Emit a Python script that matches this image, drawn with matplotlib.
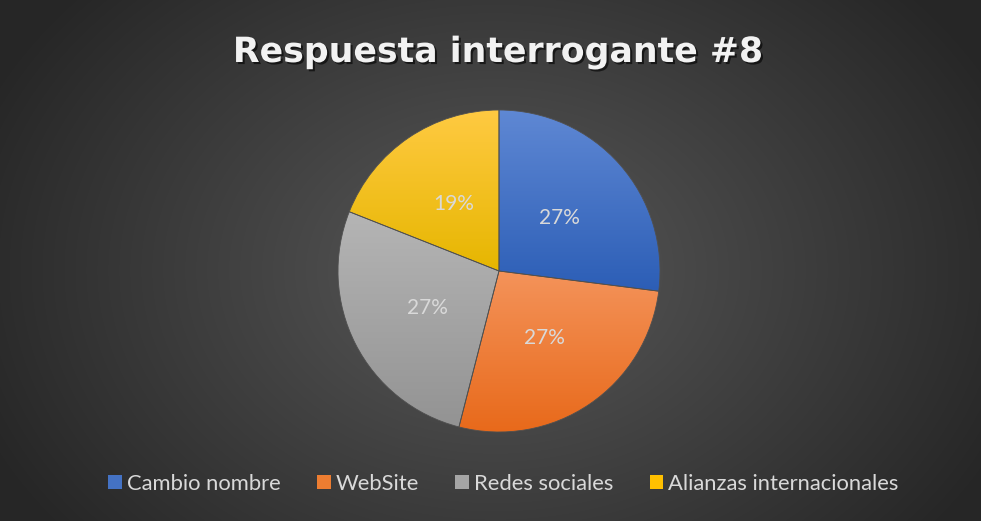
import matplotlib.pyplot as plt
import matplotlib.patheffects as pe
import numpy as np
from matplotlib.colors import LinearSegmentedColormap
from matplotlib.patches import Patch

categories = ["Cambio nombre", "WebSite", "Redes sociales", "Alianzas internacionales"]
values = [27, 27, 27, 19]
# (top, bottom) gradient colours for each slice
top_colors = ["#5f88d4", "#f4935a", "#b5b5b5", "#ffca42"]
bottom_colors = ["#2c5eb6", "#e8691a", "#939393", "#e6b600"]
legend_colors = ["#4472c4", "#ed7d31", "#a5a5a5", "#ffc000"]

W, H = 981, 521
fig = plt.figure(figsize=(W / 100, H / 100), dpi=100)

# radial background
bg = fig.add_axes([0, 0, 1, 1])
yy, xx = np.mgrid[0:H, 0:W]
d = np.sqrt(((xx - 495) / 560.0) ** 2 + ((yy - 270) / 420.0) ** 2)
shade = np.clip(0.35 - 0.2 * d, 0.15, 0.35)
bg.imshow(np.dstack([shade] * 3), extent=[0, W, H, 0], aspect="auto")
bg.set_xlim(0, W)
bg.set_ylim(H, 0)
bg.axis("off")

# pie axes: centre (499, 271), radius 161 px
cx, cy, r = 499, 271, 161
ax = fig.add_axes([(cx - r) / W, (H - cy - r) / H, 2 * r / W, 2 * r / H])
ax.axis("off")

wedges, texts, autotexts = ax.pie(
    values, startangle=90, counterclock=False, radius=1,
    colors=legend_colors, autopct="%1.0f%%", pctdistance=0.5,
    wedgeprops=dict(linewidth=0.6, edgecolor="#505050"),
    textprops=dict(color="#d9d9d9", fontsize=15, family="Lato"),
)

# vertical gradient inside every slice
grad = np.linspace(0, 1, 256).reshape(-1, 1)
for w, ct, cb in zip(wedges, top_colors, bottom_colors):
    path = w.get_path().transformed(w.get_patch_transform())
    x0, y0 = path.vertices.min(axis=0)
    x1, y1 = path.vertices.max(axis=0)
    cmap = LinearSegmentedColormap.from_list("g", [ct, cb])
    im = ax.imshow(grad, cmap=cmap, extent=[x0, x1, y0, y1], aspect="auto",
                   origin="upper", zorder=w.get_zorder())
    im.set_clip_path(w)
    w.set_facecolor("none")
    w.set_zorder(im.get_zorder() + 0.1)
ax.set_xlim(-1, 1)
ax.set_ylim(-1, 1)
for t in autotexts:
    t.set_zorder(5)

fig.text(498 / W, (H - 52) / H, "Respuesta interrogante #8", ha="center", va="center",
         color="#f2f2f2", fontsize=25, fontweight="bold", family="DejaVu Sans",
         path_effects=[pe.withSimplePatchShadow(offset=(1.5, -1.5), shadow_rgbFace="black", alpha=0.6)])

handles = [Patch(facecolor=c, edgecolor="none") for c in legend_colors]
fig.legend(handles, categories, loc="center", bbox_to_anchor=(503.5 / W, (H - 484) / H),
           ncol=4, frameon=False, handlelength=0.63, handleheight=0.63, handletextpad=0.22,
           columnspacing=1.65, borderpad=0, prop=dict(family="Lato", size=15.8),
           labelcolor="#d9d9d9")

fig.savefig("out.png", dpi=100)
